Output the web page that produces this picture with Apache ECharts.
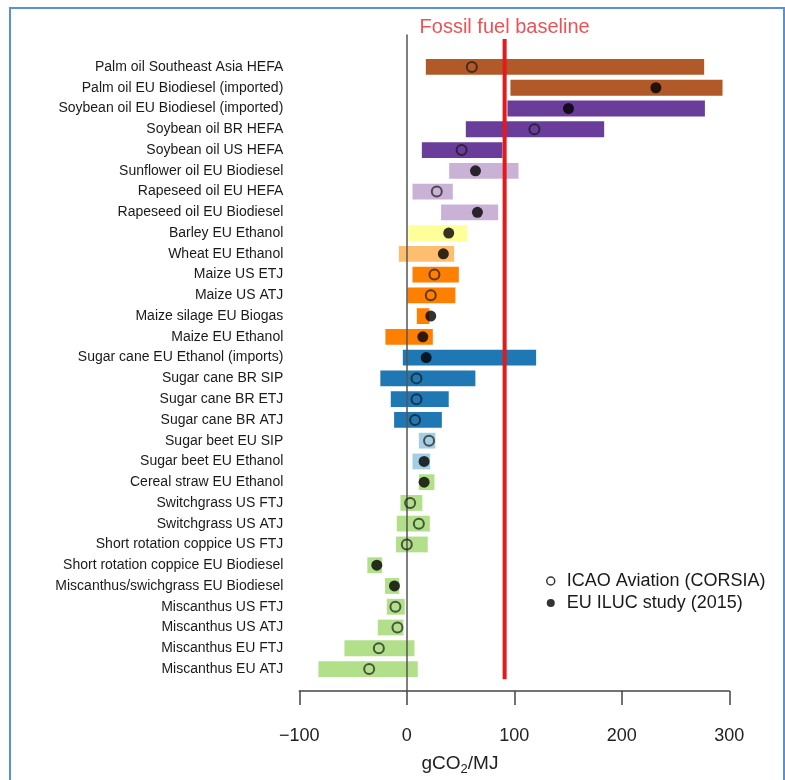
<!DOCTYPE html>
<html>
<head>
<meta charset="utf-8">
<script src="https://cdn.jsdelivr.net/npm/echarts@6/dist/echarts.min.js"></script>
<style>
html,body{margin:0;padding:0;background:#fff;}
#c{width:785px;height:780px;}
</style>
</head>
<body>
<div id="c"></div>
<script>
// ---- data ----
var categories = [
  'Palm oil Southeast Asia HEFA',
  'Palm oil EU Biodiesel (imported)',
  'Soybean oil EU Biodiesel (imported)',
  'Soybean oil BR HEFA',
  'Soybean oil US HEFA',
  'Sunflower oil EU Biodiesel',
  'Rapeseed oil EU HEFA',
  'Rapeseed oil EU Biodiesel',
  'Barley EU Ethanol',
  'Wheat EU Ethanol',
  'Maize US ETJ',
  'Maize US ATJ',
  'Maize silage EU Biogas',
  'Maize EU Ethanol',
  'Sugar cane EU Ethanol (imports)',
  'Sugar cane BR SIP',
  'Sugar cane BR ETJ',
  'Sugar cane BR ATJ',
  'Sugar beet EU SIP',
  'Sugar beet EU Ethanol',
  'Cereal straw EU Ethanol',
  'Switchgrass US FTJ',
  'Switchgrass US ATJ',
  'Short rotation coppice US FTJ',
  'Short rotation coppice EU Biodiesel',
  'Miscanthus/swichgrass EU Biodiesel',
  'Miscanthus US FTJ',
  'Miscanthus US ATJ',
  'Miscanthus EU FTJ',
  'Miscanthus EU ATJ'
];
var rangeLow  = [17.7, 96.4, 93.6, 54.9, 14, 39.4, 5.3, 31.9, 1.5, -7.4, 5.3, 0.6, 9.3, -19.9, -3.7, -24.6, -14.9, -11.8, 11.2, 5.3, 11.2, -5.9, -9.3, -10, -36.7, -20.2, -18.6, -27, -58, -82.2];
var rangeHigh = [276.6, 293.7, 277.3, 183.6, 89, 103.9, 42.8, 85, 56.4, 44, 48.4, 45.2, 21, 24.2, 120.3, 63.8, 39, 32.6, 26.6, 21.7, 25.7, 14.5, 21.4, 19.5, -23, -7, -1.9, -3.1, 7.1, 10.2];
var icaoValues = [60.5, null, null, 118.7, 51, null, 27.9, null, null, null, 25.7, 22.3, null, null, null, 9, 9, 7.7, 20.7, null, null, 3.1, 11.2, 0, null, null, -10.6, -8.7, -26, -35];
var iLucValues = [null, 231.7, 150.4, null, null, 63.9, null, 65.7, 39, 34, null, null, 22.3, 14.9, 18, null, null, null, null, 16.1, 16.1, null, null, null, -27.9, -11.5, null, null, null, null];
var fossilBaseline = 91;
var xTicks = [-100, 0, 100, 200, 300];
var seriesNames = ['ICAO Aviation (CORSIA)', 'EU ILUC study (2015)'];

// ---- styles ----
var rowColors = [
  '#b15928','#b15928',
  '#6a3d9a','#6a3d9a','#6a3d9a',
  '#cab2d6','#cab2d6','#cab2d6',
  '#ffff99','#fdbf6f',
  '#ff7f00','#ff7f00','#ff7f00','#ff7f00',
  '#1f78b4','#1f78b4','#1f78b4','#1f78b4',
  '#a6cee3','#a6cee3',
  '#b2df8a','#b2df8a','#b2df8a','#b2df8a','#b2df8a','#b2df8a','#b2df8a','#b2df8a','#b2df8a','#b2df8a'
];
var FONT = '"Liberation Sans", Arial, Helvetica, sans-serif';

var barData = categories.map(function (c, i) { return [rangeLow[i], rangeHigh[i], i]; });
function pts(arr) {
  var out = [];
  arr.forEach(function (v, i) { if (v !== null) out.push([v, i]); });
  return out;
}

var chart = echarts.init(document.getElementById('c'), null, {renderer: 'canvas'});
var option = {
  backgroundColor: '#fff',
  animation: false,
  textStyle: {fontFamily: FONT},
  grid: [
    {left: 299.3, right: 55.7, top: 56.6, bottom: 100.6},
    {left: 299.3, right: 55.7, top: 35, bottom: 89}
  ],
  xAxis: [
    {gridIndex: 0, type: 'value', min: xTicks[0], max: xTicks[xTicks.length - 1], show: false},
    {gridIndex: 1, type: 'value', min: xTicks[0], max: xTicks[xTicks.length - 1], interval: 100,
     position: 'bottom',
     axisLine: {show: true, onZero: false, lineStyle: {color: '#444', width: 1.5}},
     axisTick: {show: true, length: 14, lineStyle: {color: '#444', width: 1.5}},
     axisLabel: {fontSize: 18, color: '#222', margin: 36, fontFamily: FONT,
       formatter: function (v) { return v < 0 ? '\u2212' + Math.abs(v) : String(v); }},
     splitLine: {show: false}}
  ],
  yAxis: [
    {gridIndex: 0, type: 'category', data: categories, inverse: true,
     axisLine: {show: false}, axisTick: {show: false},
     axisLabel: {fontSize: 14, color: '#1a1a1a', margin: 16, fontFamily: FONT},
     splitLine: {show: false}},
    {gridIndex: 1, type: 'value', inverse: true, min: -1.54, max: 30.06, z: 3,
     axisLine: {show: true, onZero: true, lineStyle: {color: '#555', width: 1.5}},
     axisTick: {show: false}, axisLabel: {show: false}, splitLine: {show: false}}
  ],
  legend: {
    orient: 'vertical', left: 541, top: 567,
    itemWidth: 22, itemHeight: 8, itemGap: 4,
    textStyle: {fontSize: 18, color: '#1a1a1a', fontFamily: FONT, lineHeight: 17},
    data: [
      {name: seriesNames[0], icon: 'circle', itemStyle: {color: '#fff', borderColor: '#000', borderWidth: 1.5}},
      {name: seriesNames[1], icon: 'circle', itemStyle: {color: '#000', borderWidth: 0}}
    ]
  },
  graphic: [
    {type: 'rect', shape: {x: 10, y: 8, width: 774, height: 800}, style: {fill: null, stroke: '#5b8fd8', lineWidth: 2}, z: 10},
    {type: 'text', x: 460, y: 764, style: {
      text: '{a|gCO}{s|2}{a|/MJ}', align: 'center', verticalAlign: 'middle',
      rich: {a: {fontSize: 19, fill: '#222', fontFamily: FONT},
             s: {fontSize: 13, fill: '#222', fontFamily: FONT, padding: [10, 0, 0, 0]}}
    }}
  ],
  series: [
    {
      type: 'custom', xAxisIndex: 0, yAxisIndex: 0, z: 2,
      encode: {x: [0, 1], y: 2},
      data: barData,
      renderItem: function (params, api) {
        var i = api.value(2);
        var s = api.coord([api.value(0), i]);
        var e = api.coord([api.value(1), i]);
        var h = api.size([0, 1])[1] * 0.76;
        return {type: 'rect', shape: {x: s[0], y: s[1] - h / 2, width: e[0] - s[0], height: h},
                style: {fill: rowColors[i]}};
      }
    },
    {
      type: 'line', xAxisIndex: 1, yAxisIndex: 1, z: 4,
      data: [[fossilBaseline, -1.35], [fossilBaseline, 29.5]],
      symbol: 'none', lineStyle: {color: '#e31a1c', width: 4}, silent: true
    },
    {
      type: 'scatter', xAxisIndex: 1, yAxisIndex: 1, z: 4,
      data: [[fossilBaseline, -1.35]], symbolSize: 1, itemStyle: {color: 'rgba(0,0,0,0)'},
      label: {show: true, position: 'top', distance: 1, formatter: 'Fossil fuel baseline',
              fontSize: 20, color: '#e8262b', fontFamily: FONT}
    },
    {
      name: seriesNames[0], type: 'scatter', xAxisIndex: 0, yAxisIndex: 0, z: 5,
      data: pts(icaoValues), symbol: 'circle', symbolSize: 10,
      itemStyle: {color: 'rgba(0,0,0,0)', borderColor: 'rgba(20,20,20,0.85)', borderWidth: 2}
    },
    {
      name: seriesNames[1], type: 'scatter', xAxisIndex: 0, yAxisIndex: 0, z: 5,
      data: pts(iLucValues), symbol: 'circle', symbolSize: 11,
      itemStyle: {color: '#000'}
    }
  ]
};
chart.setOption(option);
</script>
</body>
</html>
